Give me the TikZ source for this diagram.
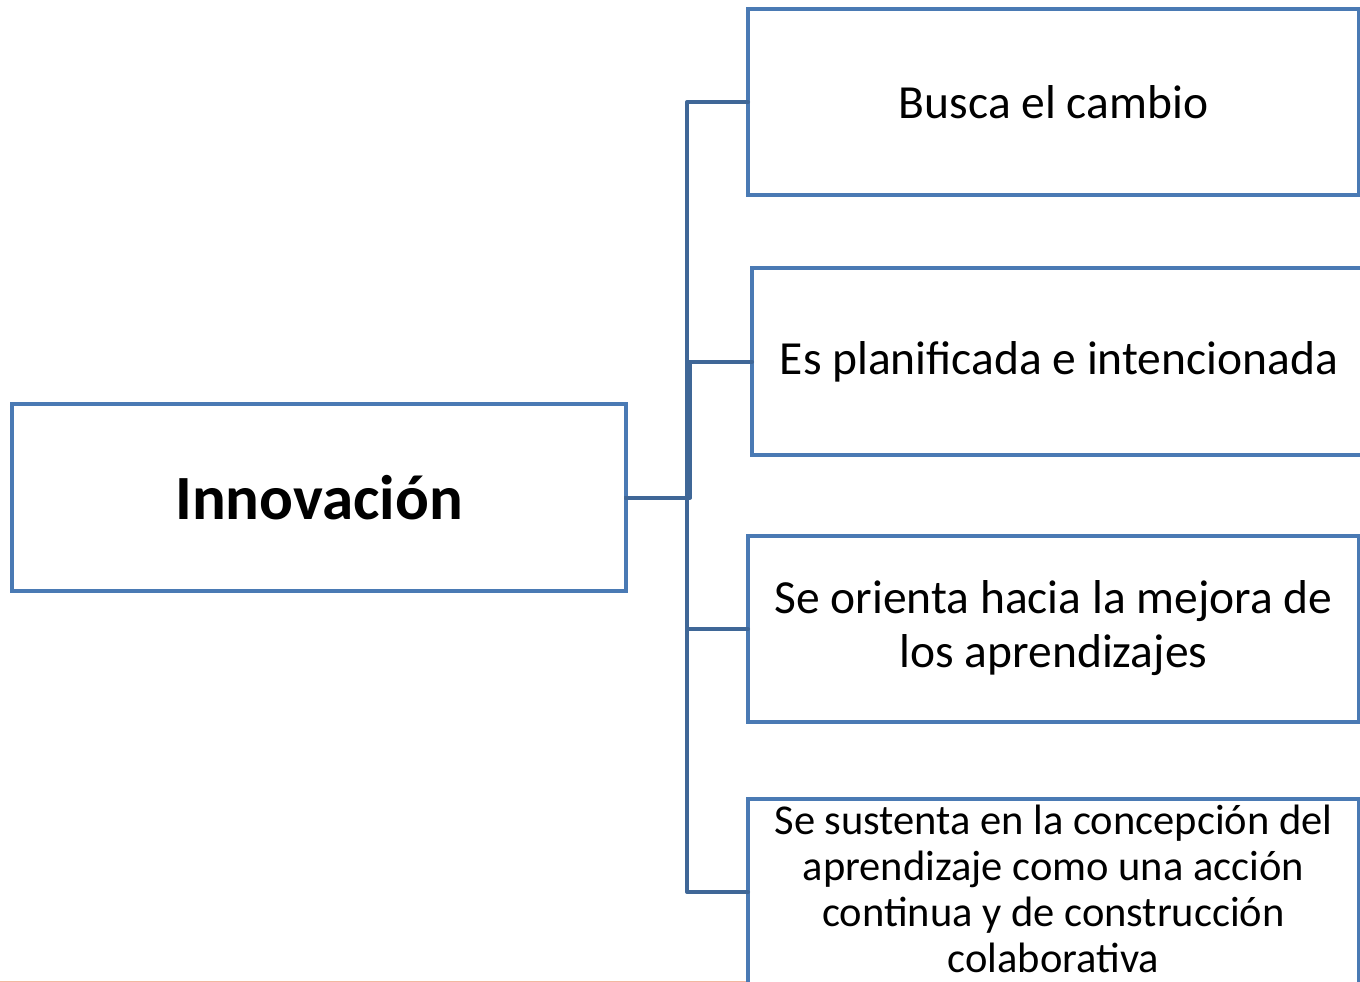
\documentclass[tikz,border=0pt]{standalone}
\usepackage{fontspec}
\setmainfont{Carlito}
\definecolor{boxblue}{HTML}{4A7AB4}
\definecolor{linkblue}{HTML}{3F6797}
\definecolor{salmon}{HTML}{F2B8A0}
\begin{document}
\begin{tikzpicture}[x=1pt,y=-1pt,
  box/.style={draw=boxblue, line width=4pt, fill=white, inner sep=0pt, outer sep=0pt, align=center, anchor=north west},
  link/.style={draw=linkblue, line width=4pt, line join=round, line cap=round},
  childtext/.style={font=\fontsize{47.5}{54}\selectfont, align=center}]
\useasboundingbox (0,0) rectangle (1360,982);
\clip (0,0) rectangle (1360,982);
\fill[white] (0,0) rectangle (1360,982);
\draw[salmon, line width=1pt] (0,981) -- (748,981);
% root
\node[box, minimum width=614pt, minimum height=187pt] (root) at (12,404) {};
\node[font=\fontsize{63}{72}\selectfont\bfseries] (roottext) at (root.center) {Innovación};
% children
\node[box, minimum width=611pt, minimum height=186pt] (c1) at (748,9) {};
\node[box, minimum width=614pt, minimum height=187pt] (c2) at (752,268) {};
\node[box, minimum width=611pt, minimum height=186pt] (c3) at (748,536) {};
\node[box, minimum width=611pt, minimum height=186pt] (c4) at (748,799) {};
\node[childtext] (t1) at (c1.center) {Busca el cambio};
\node[childtext] (t2) at (c2.center) {Es planificada e intencionada};
\node[childtext] (t3) at ([yshift=1pt]c3.center) {Se orienta hacia la mejora de\\los aprendizajes};
\node[font=\fontsize{42.5}{46}\selectfont, align=center] (t4) at ([yshift=3pt]c4.center) {Se sustenta en la concepción del\\aprendizaje como una acción\\continua y de construcción\\colaborativa};
% connectors
\draw[link] (root.east) -- ++(61,0) |- (c1.west);
\draw[link] (root.east) -- ++(64,0) |- (c2.west);
\draw[link] (root.east) -- ++(61,0) |- (c3.west);
\draw[link] (root.east) -- ++(61,0) |- (c4.west);
\end{tikzpicture}
\end{document}
